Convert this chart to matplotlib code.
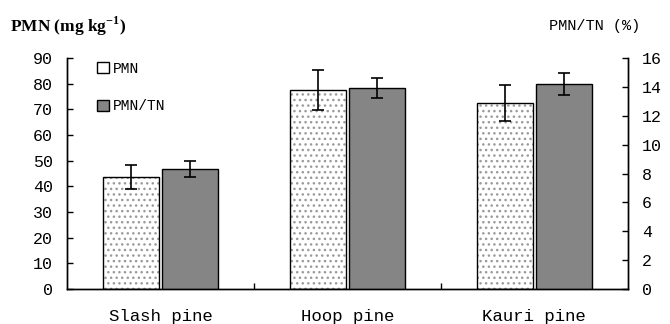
import matplotlib
matplotlib.use("Agg")
import matplotlib.pyplot as plt
import numpy as np

# data
species = ["Slash pine", "Hoop pine", "Kauri pine"]
pmn = [43.6, 77.5, 72.3]          # mg kg-1
pmn_err = [4.6, 7.7, 7.0]
pmn_tn = [8.3, 13.9, 14.2]        # %
pmn_tn_err = [0.55, 0.7, 0.75]

plt.rcParams.update({
    "font.family": "Liberation Mono",
    "hatch.linewidth": 1.0,
    "mathtext.fontset": "custom",
    "mathtext.rm": "Liberation Serif:bold",
    "mathtext.bf": "Liberation Serif:bold",
})

fig = plt.figure(figsize=(6.7, 3.24), dpi=100)
ax = fig.add_axes([0.100, 0.108, 0.837, 0.713])
ax2 = ax.twinx()

x = np.arange(len(species))
w = 0.30
gap = 0.008

# dotted fill drawn with a grey edge, then a black outline on top
ax.bar(x - w / 2 - gap, pmn, w, color="white", edgecolor="#9a9a9a",
       linewidth=0, hatch="...")
b1 = ax.bar(x - w / 2 - gap, pmn, w, fill=False, edgecolor="black",
            linewidth=1.0, label="PMN")
ax.errorbar(x - w / 2 - gap, pmn, yerr=pmn_err, fmt="none", ecolor="black",
            elinewidth=1.2, capsize=4, capthick=1.2)

b2 = ax2.bar(x + w / 2 + gap, pmn_tn, w, color="#858585", edgecolor="black",
             linewidth=1.0, label="PMN/TN")
ax2.errorbar(x + w / 2 + gap, pmn_tn, yerr=pmn_tn_err, fmt="none", ecolor="black",
             elinewidth=1.2, capsize=4, capthick=1.2)

ax.set_xlim(-0.5, 2.5)
ax.set_ylim(0, 90)
ax2.set_ylim(0, 16)
ax.set_yticks(range(0, 91, 10))
ax2.set_yticks(range(0, 17, 2))

# x ticks sit between groups, labels under group centres
ax.set_xticks([0.5, 1.5])
ax.set_xticklabels([])
ax.tick_params(axis="x", direction="in", length=4, width=1)
for i, name in enumerate(species):
    ax.text(i, -0.085, name, transform=ax.get_xaxis_transform(),
            ha="center", va="top", fontsize=12.5)

ax.tick_params(axis="y", direction="in", length=4, width=1, labelsize=12, pad=10)
ax2.tick_params(axis="y", direction="in", length=4, width=1, labelsize=12, pad=10)

for a in (ax, ax2):
    a.spines["top"].set_visible(False)
    for s in ("left", "right", "bottom"):
        a.spines[s].set_linewidth(1.0)

fig.text(0.015, 0.92, r"PMN (mg kg$^{-1}$)", fontsize=12.5,
         fontweight="bold", family="Liberation Serif", va="center")
fig.text(0.955, 0.92, "PMN/TN (%)", fontsize=11, ha="right", va="center")

ax.legend([b1, b2], ["PMN", "PMN/TN"], loc="upper left",
          bbox_to_anchor=(0.03, 1.04), frameon=False, fontsize=10.5,
          handlelength=0.8, handleheight=0.8, handletextpad=0.3,
          labelspacing=1.6)

fig.savefig("out.png", dpi=100)
